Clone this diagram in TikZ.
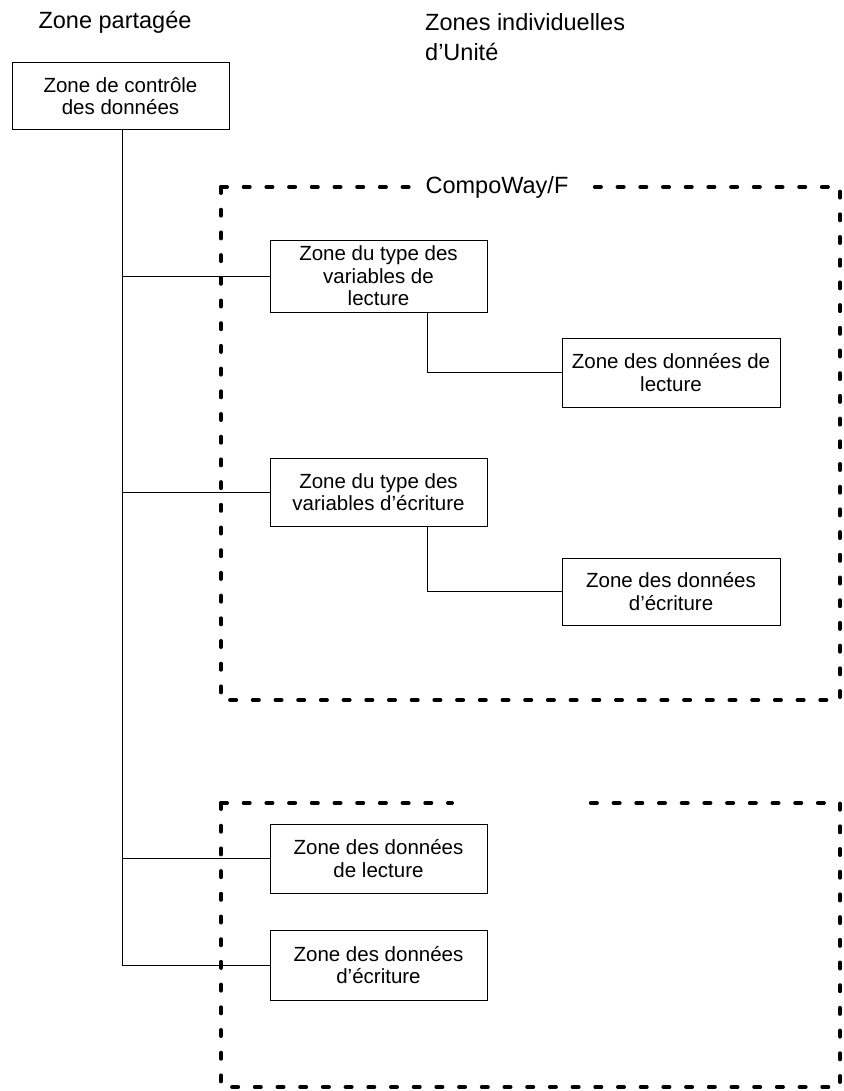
\documentclass[tikz,border=0pt]{standalone}
\usepackage{fontspec}
\setmainfont{Liberation Sans}
\begin{document}
\begin{tikzpicture}[x=1pt,y=-1pt,
  box/.style={draw,line width=0.8pt,inner sep=0pt,align=center,font=\fontsize{20.5}{22.5}\selectfont},
  link/.style={draw,line width=0.8pt},
  zone/.style={draw,line width=4pt,line cap=round,dash pattern=on 6pt off 16.7pt},
  head/.style={font=\fontsize{23.5}{30}\selectfont,inner sep=0pt}]
\useasboundingbox (0,0) rectangle (843,1091);
% dashed zones
\draw[zone] (221,187) -- (412,187);
\draw[zone] (221,187) -- (221,700) -- (840,700) -- (840,187) -- (590,187);
\draw[zone] (221,803) -- (452,803);
\draw[zone] (221,803) -- (221,1087) -- (840,1087) -- (840,803) -- (590,803);
\node[head,anchor=center] (cw) at (497,187) {CompoWay/F};
% headings
\node[head] (hp) at (115,22) {Zone partagée};
\node[head,align=left,anchor=west] (hi) at (425,37) {Zones individuelles\\d’Unité};
% boxes
\node[box,minimum width=217pt,minimum height=67pt] (ctrl) at (120.5,96) {Zone de contrôle\\des données};
\node[box,minimum width=217pt,minimum height=72pt] (tl) at (378.5,276) {Zone du type des\\variables de\\lecture};
\node[box,minimum width=218pt,minimum height=69pt] (dl) at (671,372.5) {Zone des données de\\lecture};
\node[box,minimum width=217pt,minimum height=68pt] (te) at (378.5,492) {Zone du type des\\variables d’écriture};
\node[box,minimum width=218pt,minimum height=67pt] (de) at (671,591.5) {Zone des données\\d’écriture};
\node[box,minimum width=217pt,minimum height=69pt] (bl) at (378.5,858.5) {Zone des données\\de lecture};
\node[box,minimum width=217pt,minimum height=70pt] (be) at (378.5,965) {Zone des données\\d’écriture};
% connectors
\coordinate (t0) at (122,129);
\path[link] (ctrl.south -| t0) -- (t0 |- be.west) -- (be.west);
\path[link] (t0 |- tl.west) -- (tl.west);
\path[link] (t0 |- te.west) -- (te.west);
\path[link] (t0 |- bl.west) -- (bl.west);
\coordinate (c1) at (427,0);
\path[link] (tl.south -| c1) -- (c1 |- dl.west) -- (dl.west);
\path[link] (te.south -| c1) -- (c1 |- de.west) -- (de.west);
\end{tikzpicture}
\end{document}
